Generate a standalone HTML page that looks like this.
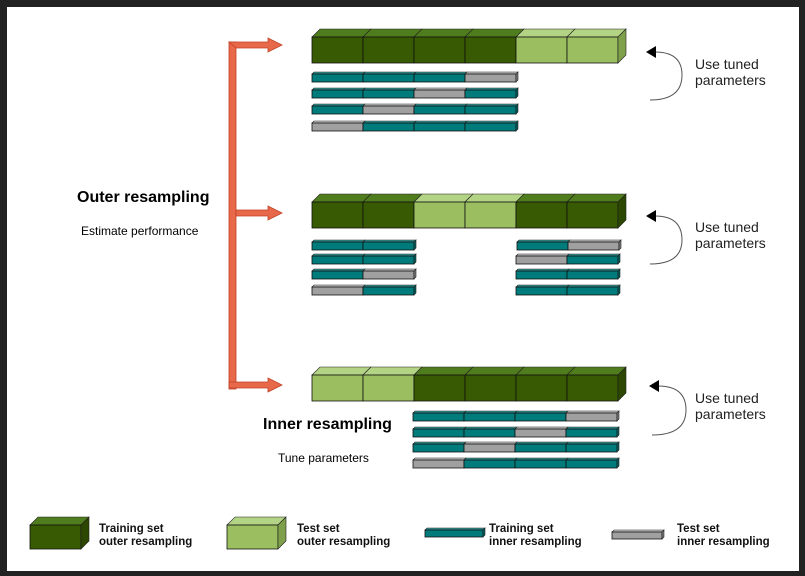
<!DOCTYPE html>
<html><head><meta charset="utf-8"><style>
html,body{margin:0;padding:0;background:#222;}
#w{position:absolute;left:7px;top:7px;width:792px;height:564px;background:#fff;}
svg{position:absolute;left:0;top:0;}
text{font-family:"Liberation Sans",sans-serif;}
</style></head><body>
<div id="w"></div>
<svg id="s" width="805" height="576" xmlns="http://www.w3.org/2000/svg">
<g id="g"></g>
<g fill="#e8684a" stroke="#c04028" stroke-width="0.8">
<rect x="229" y="42" width="7" height="347"/>
<path d="M229 42 H268 V38 L282 45 L268 52 V48 H236 Z"/>
<path d="M236 210 H268 V206 L282 213 L268 220 V216 H236 Z"/>
<path d="M229 382 H268 V378 L282 385 L268 392 V388 H229 Z"/>
</g>
<g fill="none" stroke="#555" stroke-width="1">
<path d="M650 100 Q682 100 682 75 Q682 52 655 52"/>
<path d="M650 264 Q682 264 682 240 Q682 216 655 216"/>
<path d="M652 435 Q686 435 686 410 Q686 386 658 386"/>
</g>
<g fill="#000">
<path d="M646 52 L656 46 L656 58 Z"/>
<path d="M646 216 L656 210 L656 222 Z"/>
<path d="M649 386 L659 380 L659 392 Z"/>
</g>
<g font-size="14" fill="#222">
<text x="695" y="69">Use tuned</text><text x="695" y="85">parameters</text>
<text x="695" y="232">Use tuned</text><text x="695" y="248">parameters</text>
<text x="695" y="403">Use tuned</text><text x="695" y="419">parameters</text>
</g>
<text x="77" y="202" font-size="16" font-weight="bold">Outer resampling</text>
<text x="81" y="235" font-size="12">Estimate performance</text>
<text x="263" y="429" font-size="16" font-weight="bold">Inner resampling</text>
<text x="278" y="462" font-size="12">Tune parameters</text>
<g font-size="11.5" font-weight="bold" fill="#111">
<text x="99" y="532">Training set</text><text x="99" y="545">outer resampling</text>
<text x="297" y="532">Test set</text><text x="297" y="545">outer resampling</text>
<text x="489" y="532">Training set</text><text x="489" y="545">inner resampling</text>
<text x="677" y="532">Test set</text><text x="677" y="545">inner resampling</text>
</g>
</svg>
<script>
var C={D:["#385a02","#4f7c1c","#2b4700"],L:["#9bbf60","#b3d385","#7fa04a"],T:["#007b7b","#2f9696","#005f5f"],G:["#a0a0a0","#c4c4c4","#7a7a7a"]};
var out="";
function bar(x,y,w,h,d,seq){
 for(var i=0;i<seq.length;i++){
  var c=C[seq[i]],bx=x+i*w;
  out+='<path d="M'+bx+' '+y+' L'+(bx+d)+' '+(y-d)+' L'+(bx+w+d)+' '+(y-d)+' L'+(bx+w)+' '+y+' Z" fill="'+c[1]+'" stroke="#222" stroke-width="0.6"/>';
  out+='<rect x="'+bx+'" y="'+y+'" width="'+w+'" height="'+h+'" fill="'+c[0]+'" stroke="#111" stroke-width="0.8"/>';
  if(i==seq.length-1) out+='<path d="M'+(bx+w)+' '+y+' L'+(bx+w+d)+' '+(y-d)+' L'+(bx+w+d)+' '+(y+h-d)+' L'+(bx+w)+' '+(y+h)+' Z" fill="'+c[2]+'" stroke="#222" stroke-width="0.6"/>';
 }
}
bar(312,37,51,26,8,"DDDDLL");
bar(312,74,51,8,2,"TTTG");bar(312,90,51,8,2,"TTGT");bar(312,106,51,8,2,"TGTT");bar(312,123,51,8,2,"GTTT");
bar(312,202,51,26,8,"DDLLDD");
bar(312,242,51,8,2,"TT");bar(312,256,51,8,2,"TT");bar(312,271,51,8,2,"TG");bar(312,287,51,8,2,"GT");
bar(517,242,51,8,2,"TG");bar(516,256,51,8,2,"GT");bar(516,271,51,8,2,"TT");bar(516,287,51,8,2,"TT");
bar(312,375,51,26,8,"LLDDDD");
bar(413,413,51,8,2,"TTTG");bar(413,429,51,8,2,"TTGT");bar(413,444,51,8,2,"TGTT");bar(413,460,51,8,2,"GTTT");
bar(30,525,51,24,8,"D");bar(227,525,51,24,8,"L");bar(425,530,58,7,2,"T");bar(612,532,50,7,2,"G");
document.getElementById("g").innerHTML=out;
</script>
</body></html>
